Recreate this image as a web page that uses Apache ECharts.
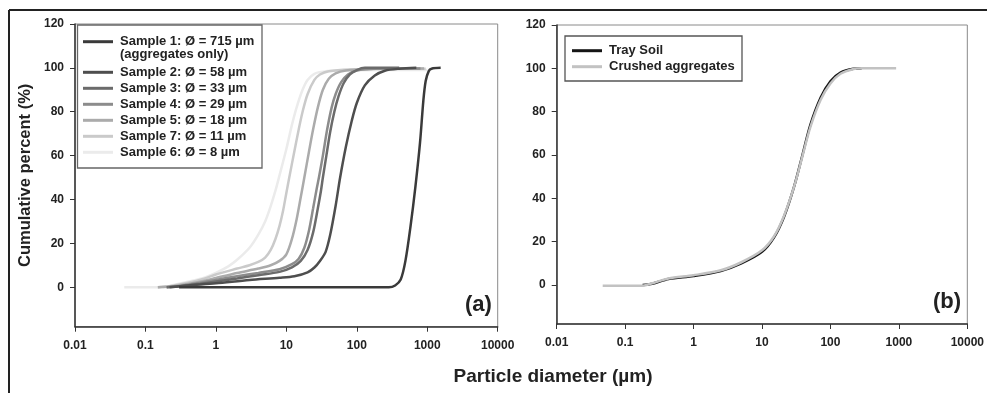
<!DOCTYPE html>
<html>
<head>
<meta charset="utf-8">
<script src="https://cdn.jsdelivr.net/npm/echarts@6/dist/echarts.min.js"></script>
<style>
html,body{margin:0;padding:0;background:#fff;}
#chart{width:987px;height:393px;}
</style>
</head>
<body>
<div id="chart"></div>
<script>
// ---- data (particle diameter µm, cumulative %) ----
var xTickLabels = ['0.01', '0.1', '1', '10', '100', '1000', '10000'];
var yTickValues = [0, 20, 40, 60, 80, 100, 120];

var namesA = ['Sample 1: Ø = 715 µm', 'Sample 2: Ø = 58 µm', 'Sample 3: Ø = 33 µm', 'Sample 4: Ø = 29 µm', 'Sample 5: Ø = 18 µm', 'Sample 7: Ø = 11 µm', 'Sample 6: Ø = 8 µm'];
var colorsA = ['#3a3a3a', '#4e4e4e', '#6b6b6b', '#8c8c8c', '#ababab', '#cacaca', '#ebebeb'];

var sample1 = [[0.3,0],[1,0],[10,0],[100,0],[285,0],[350,0.8],[420,3.5],[490,12],[580,28],[680,46],[790,66],[880,85],[950,94],[1050,98.5],[1150,99.6],[1550,100]];
var sample2 = [[0.22,0],[0.4,0.8],[1,1.8],[3,3.3],[8,4.3],[13,5],[20,6.8],[25,9],[30,12],[36,16],[42,24],[50,37],[58,50],[70,64],[85,76],[100,84],[130,92],[180,96.5],[250,98.7],[400,99.6],[700,100]];
var sample3 = [[0.2,0],[0.3,0.4],[0.6,1.6],[1,2.6],[2,4],[4,5.5],[8,7],[12,9],[16,12],[20,17],[24,25],[28,36],[31,44],[33,50],[37,60],[42,71],[48,80],[55,87],[65,93],[80,97],[100,99],[130,100],[200,100],[400,100]];
var sample4 = [[0.2,0],[0.3,0.5],[0.6,2],[1,3.3],[2,5],[4,6.5],[8,8.2],[12,10.5],[15,13],[18,18],[21,26],[24,36],[27,45],[29,50],[33,60],[38,72],[44,82],[50,88],[60,93.5],[75,97],[100,98.8],[150,99.5],[300,99.7],[800,99.7]];
var sample5 = [[0.15,0],[0.22,0.3],[0.4,1.5],[0.7,3],[1,4.2],[2,6.5],[4,8.5],[6,10],[8,12],[10,15],[12,22],[14,31],[16,41],[18,50],[21,62],[24,72],[28,82],[33,90],[40,95],[50,97.5],[70,98.8],[150,99.5],[500,99.7],[900,99.7]];
var sample7 = [[0.15,0],[0.22,0.5],[0.4,2],[0.7,4],[1,5.8],[2,8.5],[3,10],[4,11.5],[5,13.5],[6,17],[7,22],[8,28],[9,35],[10,43],[11,50],[13,62],[15,72],[17,80],[20,88],[25,94.5],[30,97],[40,98.5],[80,99.3],[300,99.6],[950,99.6]];
var sample6 = [[0.05,0],[0.17,0],[0.25,1],[0.4,2.5],[0.7,4.5],[1,6.5],[1.5,9.5],[2,12.5],[3,18],[4,24],[5,30],[6,37],[7,44],[8,51],[10,63],[12,74],[14,82],[17,90],[20,94.5],[25,97.3],[35,98.4],[60,98.8],[200,99],[1000,99]];
var seriesA = [sample1, sample2, sample3, sample4, sample5, sample7, sample6];

var namesB = ['Tray Soil', 'Crushed aggregates'];
var colorsB = ['#151515', '#c2c2c2'];
var traySoil = [[0.18,0],[0.25,0.6],[0.43,2.8],[1,4.2],[2.5,6.5],[5,10],[10,15.3],[15,22],[21,31.5],[29.5,45.5],[39,60],[51,74],[72,86.5],[100,94],[140,98],[217,99.8],[287,100]];
var crushedAggregates = [[0.047,-0.3],[0.18,-0.3],[0.25,0.8],[0.43,3],[1,4.5],[2.5,6.8],[5,10.5],[10,16],[15,22.5],[21,32],[29.5,45.5],[39,59.5],[51,73],[72,85.5],[100,93],[140,97.5],[217,99.7],[287,100],[500,100],[912,100]];
var seriesB = [traySoil, crushedAggregates];

// ---- chart ----
var FONT = '"Liberation Sans", Arial, sans-serif';
var chart = echarts.init(document.getElementById('chart'), null, {renderer: 'canvas'});

function xAxisCfg(gi) {
  return {
    type: 'log', logBase: 10, min: 0.01, max: 10000, gridIndex: gi,
    axisLine: {show: true, onZero: false, lineStyle: {color: '#333', width: 1.5}},
    axisTick: {show: true, inside: false, length: 5, lineStyle: {color: '#333', width: 1}},
    minorTick: {show: false},
    splitLine: {show: false},
    axisLabel: {
      margin: 13, color: '#222', fontFamily: FONT, fontWeight: 'bold', fontSize: 12,
      showMinLabel: true, showMaxLabel: true,
      formatter: function (v) { return xTickLabels[Math.round(Math.log10(v)) + 2]; }
    }
  };
}
function yAxisCfg(gi, withName) {
  var c = {
    type: 'value', min: -18, max: 120, gridIndex: gi,
    axisLine: {show: true, onZero: false, lineStyle: {color: '#333', width: 1.5}},
    axisTick: {show: true, inside: false, length: 5, customValues: yTickValues, lineStyle: {color: '#333', width: 1}},
    splitLine: {show: false},
    axisLabel: {margin: 11, color: '#222', fontFamily: FONT, fontWeight: 'bold', fontSize: 12, customValues: yTickValues}
  };
  if (withName) {
    c.name = 'Cumulative percent (%)';
    c.nameLocation = 'middle';
    c.nameGap = 41;
    c.nameRotate = 90;
    c.nameTextStyle = {color: '#222', fontFamily: FONT, fontWeight: 'bold', fontSize: 16.5};
  }
  return c;
}

var series = [];
seriesA.forEach(function (d, i) {
  series.push({
    type: 'line', name: namesA[i], data: d, xAxisIndex: 0, yAxisIndex: 0,
    symbol: 'none', smooth: 0.3,
    lineStyle: {color: colorsA[i], width: 2.5}, itemStyle: {color: colorsA[i]},
    z: 2 + (seriesA.length - i)
  });
});
seriesB.forEach(function (d, i) {
  series.push({
    type: 'line', name: namesB[i], data: d, xAxisIndex: 1, yAxisIndex: 1,
    symbol: 'none', smooth: 0.3,
    lineStyle: {color: colorsB[i], width: 2.5}, itemStyle: {color: colorsB[i]},
    z: i === 0 ? 3 : 4
  });
});

var legendText = {color: '#222', fontFamily: FONT, fontWeight: 'bold', fontSize: 13, lineHeight: 14, padding: [0, 0, 0, 2]};

var option = {
  animation: false,
  backgroundColor: '#fff',
  grid: [
    {left: 75, top: 24, width: 422.7, height: 302.7, show: true, borderColor: '#8a8a8a', borderWidth: 1},
    {left: 556.7, top: 25, width: 415, height: 299, show: true, borderColor: '#8a8a8a', borderWidth: 1}
  ],
  xAxis: [xAxisCfg(0), xAxisCfg(1)],
  yAxis: [yAxisCfg(0, true), yAxisCfg(1, false)],
  legend: [
    {
      data: [namesA[0]], orient: 'vertical', left: 83, top: 34.7, padding: 0,
      itemWidth: 30, itemHeight: 3, icon: 'rect', itemGap: 2, textStyle: legendText,
      selectedMode: false, z: 20
    },
    {
      data: namesA.slice(1), orient: 'vertical', left: 83, top: 65.3, padding: 0,
      itemWidth: 30, itemHeight: 3, icon: 'rect', itemGap: 2, textStyle: legendText,
      selectedMode: false, z: 20
    },
    {
      data: namesB, orient: 'vertical', left: 572, top: 43.7, padding: 0,
      itemWidth: 30, itemHeight: 3, icon: 'rect', itemGap: 2, textStyle: legendText,
      selectedMode: false, z: 20
    }
  ],
  graphic: [
    {type: 'line', shape: {x1: 9, y1: 10, x2: 987, y2: 10}, style: {stroke: '#222', lineWidth: 2}, z: 10},
    {type: 'line', shape: {x1: 9, y1: 10, x2: 9, y2: 393}, style: {stroke: '#222', lineWidth: 2}, z: 10},
    {type: 'rect', shape: {x: 77.5, y: 25, width: 184.5, height: 143}, style: {fill: 'none', stroke: '#666', lineWidth: 1.3}, z: 1},
    {type: 'rect', shape: {x: 565, y: 36, width: 177, height: 45}, style: {fill: 'none', stroke: '#555', lineWidth: 1.3}, z: 1},
    {type: 'text', left: 120, top: 48, style: {text: '(aggregates only)', fill: '#222', font: 'bold 13px ' + FONT}, z: 11},
    {type: 'text', left: 465, top: 294, style: {text: '(a)', fill: '#222', font: 'bold 22px ' + FONT}, z: 11},
    {type: 'text', left: 933, top: 291, style: {text: '(b)', fill: '#222', font: 'bold 22px ' + FONT}, z: 11},
    {type: 'text', x: 553, y: 377, style: {text: 'Particle diameter (µm)', fill: '#222', font: 'bold 19px ' + FONT, textAlign: 'center', textVerticalAlign: 'middle'}, z: 11}
  ],
  series: series
};
chart.setOption(option);
</script>
</body>
</html>
